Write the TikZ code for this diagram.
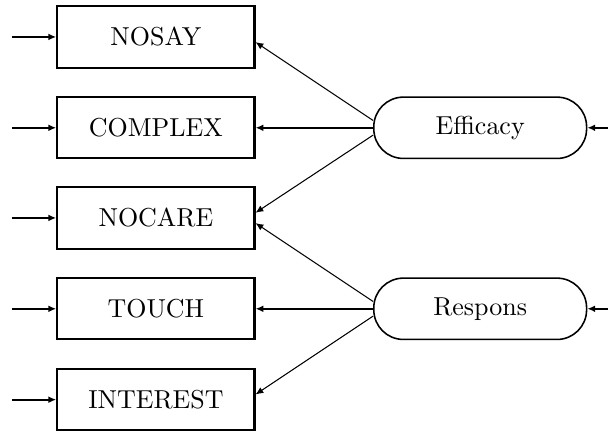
\documentclass[tikz,border=0pt]{standalone}
\usetikzlibrary{arrows.meta}
\begin{document}
\begin{tikzpicture}
    \tikzstyle{V}=[rectangle,draw,thick,minimum width=2.67cm,minimum height=0.83cm]
    \tikzstyle{F}=[rectangle,draw,semithick,rounded corners=0.4cm,minimum width=2.88cm,minimum height=0.83cm]
    \tikzstyle{A}=[-{Latex[length=3pt,width=2.6pt]}]

    \useasboundingbox (0,0) rectangle (8.23,5.87);

    % Indicators
    \node [V] (nosay)    at (2.11, 5.37) {NOSAY};
    \node [V] (complex)  at (2.11, 4.14) {COMPLEX};
    \node [V] (nocare)   at (2.11, 2.92) {NOCARE};
    \node [V] (touch)    at (2.11, 1.69) {TOUCH};
    \node [V] (interest) at (2.11, 0.46) {INTEREST};

    % Factors
    \node [F] (efficacy) at (6.50, 4.14) {Efficacy};
    \node [F] (respons)  at (6.50, 1.69) {Respons};

    % Errors
    \coordinate (e1) at (0.16, 5.37);
    \coordinate (e2) at (0.16, 4.14);
    \coordinate (e3) at (0.16, 2.92);
    \coordinate (e4) at (0.16, 1.69);
    \coordinate (e5) at (0.16, 0.46);
    \coordinate (d1) at (8.23, 4.14);
    \coordinate (d2) at (8.23, 1.69);

    \draw [A,thick] (e1) -- (nosay);
    \draw [A,thick] (e2) -- (complex);
    \draw [A,thick] (e3) -- (nocare);
    \draw [A,thick] (e4) -- (touch);
    \draw [A,thick] (e5) -- (interest);
    \draw [A,thick] (d1) -- (efficacy);
    \draw [A,thick] (d2) -- (respons);

    % Loadings
    \draw [A] ([yshift=0.1cm]efficacy.west) -- ([yshift=-0.07cm]nosay.east);
    \draw [A,thick] (efficacy) -- (complex);
    \draw [A] ([yshift=-0.1cm]efficacy.west) -- ([yshift=0.07cm]nocare.east);
    \draw [A] ([yshift=0.1cm]respons.west) -- ([yshift=-0.07cm]nocare.east);
    \draw [A,thick] (respons) -- (touch);
    \draw [A] ([yshift=-0.1cm]respons.west) -- ([yshift=0.07cm]interest.east);
\end{tikzpicture}
\end{document}
